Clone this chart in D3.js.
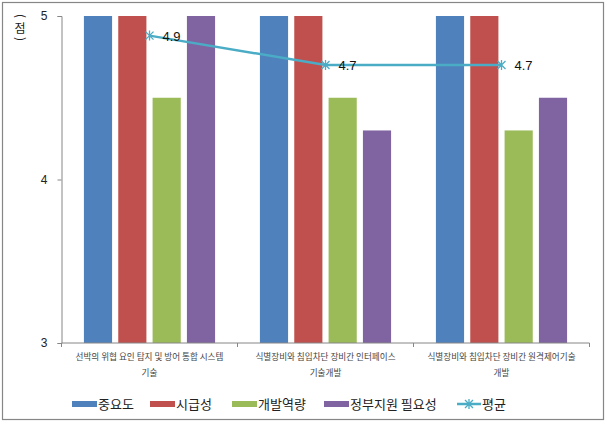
<!DOCTYPE html>
<html>
<head>
<meta charset="utf-8">
<script src="https://cdnjs.cloudflare.com/ajax/libs/d3/7.8.5/d3.min.js"></script>
<style>
  body { margin: 0; background: #fff; }
  svg { font-family: 'Noto Sans CJK KR', 'Noto Sans', sans-serif; }
</style>
</head>
<body>
<div id="graf"></div>
<script>
// data
const categorias = [
  ['선박의 위협 요인 탐지 및 방어 통합 시스템', '기술'],
  ['식별장비와 침입차단 장비간 인터페이스', '기술개발'],
  ['식별장비와 침입차단 장비간 원격제어기술', '개발']
]
const series = ['중요도', '시급성', '개발역량', '정부지원 필요성']
const colores = ['#4f81bd', '#c0504d', '#9bbb59', '#8064a2']
const importancia = [5, 5, 5]
const urgencia = [5, 5, 5]
const capacidad = [4.5, 4.5, 4.3]
const apoyo = [5, 4.3, 4.5]
const promedio = [4.88, 4.7, 4.7]
const promedioLabels = ['4.9', '4.7', '4.7']
const yTicks = [3, 4, 5]

const anchoTotal = 607
const altoTotal = 424

const svg = d3.select('#graf')
  .append('svg')
  .attr('width', anchoTotal)
  .attr('height', altoTotal)

// outer border
svg.append('rect')
  .attr('x', 2.5).attr('y', 2.5)
  .attr('width', 601).attr('height', 417)
  .attr('fill', '#fff')
  .attr('stroke', '#868686')
  .attr('stroke-width', 1.2)

const margin = { top: 16, bottom: 81, left: 61.5, right: 17.5 }
const ancho = anchoTotal - margin.left - margin.right
const alto = altoTotal - margin.top - margin.bottom

const g = svg.append('g')
  .attr('transform', `translate(${margin.left}, ${margin.top})`)

const y = d3.scaleLinear().domain([3, 5]).range([alto, 0])

const x0 = d3.scaleBand()
  .domain(d3.range(categorias.length))
  .range([0, ancho])

const x1 = d3.scaleBand()
  .domain(series)
  .range([0, x0.bandwidth()])
  .paddingInner(0.18)
  .paddingOuter(0.653)

const valores = [importancia, urgencia, capacidad, apoyo]

const grupos = g.selectAll('.grupo')
  .data(categorias.map((c, i) => i))
  .enter()
  .append('g')
  .attr('transform', i => `translate(${x0(i)}, 0)`)

grupos.selectAll('rect')
  .data(i => series.map((s, j) => ({ s, j, v: valores[j][i] })))
  .enter()
  .append('rect')
  .attr('x', d => x1(d.s))
  .attr('y', d => y(d.v))
  .attr('width', x1.bandwidth())
  .attr('height', d => alto - y(d.v))
  .attr('fill', d => colores[d.j])

// y axis
const yAxis = g.append('g')
  .call(d3.axisLeft(y).tickValues(yTicks).tickFormat(d3.format('d')).tickSize(4).tickPadding(10))
yAxis.select('.domain').attr('stroke', '#868686')
yAxis.selectAll('line').attr('stroke', '#868686')
yAxis.selectAll('text')
  .attr('font-size', 12)
  .attr('fill', '#222')
  .attr('font-family', 'Liberation Sans, Arial, sans-serif')

// x axis line with ticks on the band boundaries
const xAxis = g.append('g').attr('transform', `translate(0, ${alto})`)
xAxis.append('line')
  .attr('x1', 0).attr('x2', ancho)
  .attr('stroke', '#868686')
xAxis.selectAll('.tk')
  .data(d3.range(categorias.length + 1))
  .enter()
  .append('line')
  .attr('x1', i => i * x0.step()).attr('x2', i => i * x0.step())
  .attr('y1', 0).attr('y2', 4)
  .attr('stroke', '#868686')

const catLabels = xAxis.selectAll('.cat')
  .data(categorias)
  .enter()
  .append('text')
  .attr('text-anchor', 'middle')
  .attr('font-size', 8.6)
  .attr('fill', '#444')
catLabels.selectAll('tspan')
  .data((d, i) => d.map(t => ({ t, i })))
  .enter()
  .append('tspan')
  .attr('x', d => x0(d.i) + x0.bandwidth() / 2)
  .attr('y', (d, k) => 17 + k * 16)
  .text(d => d.t)

// average line
const px = i => x0(i) + x0.bandwidth() / 2
const linea = d3.line()
  .x((d, i) => px(i))
  .y(d => y(d))

g.append('path')
  .datum(promedio)
  .attr('d', linea)
  .attr('fill', 'none')
  .attr('stroke', '#4bacc6')
  .attr('stroke-width', 2.5)

const estrella = 'M-4,-4L4,4M-4,4L4,-4M0,-5L0,5'
g.selectAll('.marca')
  .data(promedio)
  .enter()
  .append('path')
  .attr('d', estrella)
  .attr('transform', (d, i) => `translate(${px(i)}, ${y(d)})`)
  .attr('stroke', '#4bacc6')
  .attr('stroke-width', 1.3)
  .attr('fill', 'none')

g.selectAll('.etiqueta')
  .data(promedio)
  .enter()
  .append('text')
  .attr('x', (d, i) => px(i) + 13)
  .attr('y', d => y(d) + 5)
  .attr('font-size', 13)
  .attr('fill', '#111')
  .attr('font-family', 'Liberation Sans, Arial, sans-serif')
  .text((d, i) => promedioLabels[i])

// y axis title "(점)" stacked vertically
const tituloY = svg.append('g').attr('transform', 'translate(20, 0)')
tituloY.append('text')
  .attr('transform', 'translate(0, 16) rotate(90)')
  .attr('text-anchor', 'middle').attr('dy', '0.35em')
  .attr('font-size', 12).attr('fill', '#222')
  .text('(')
tituloY.append('text')
  .attr('x', 0).attr('y', 33)
  .attr('text-anchor', 'middle')
  .attr('font-size', 12).attr('fill', '#222')
  .text('점')
tituloY.append('text')
  .attr('transform', 'translate(0, 39) rotate(90)')
  .attr('text-anchor', 'middle').attr('dy', '0.35em')
  .attr('font-size', 12).attr('fill', '#222')
  .text(')')

// legend
const leyendaX = [72, 150, 232, 324, 457]
const leyenda = svg.append('g').attr('transform', 'translate(0, 404)')
series.forEach((s, j) => {
  leyenda.append('rect')
    .attr('x', leyendaX[j]).attr('y', -3)
    .attr('width', 25).attr('height', 6)
    .attr('fill', colores[j])
  leyenda.append('text')
    .attr('x', leyendaX[j] + 26).attr('y', 5)
    .attr('font-size', 13).attr('fill', '#222')
    .text(s)
})
leyenda.append('line')
  .attr('x1', leyendaX[4]).attr('x2', leyendaX[4] + 24)
  .attr('stroke', '#4bacc6').attr('stroke-width', 2.5)
leyenda.append('path')
  .attr('d', estrella)
  .attr('transform', `translate(${leyendaX[4] + 12}, 0)`)
  .attr('stroke', '#4bacc6').attr('stroke-width', 1.3)
leyenda.append('text')
  .attr('x', leyendaX[4] + 25).attr('y', 5)
  .attr('font-size', 13).attr('fill', '#222')
  .text('평균')
</script>
</body>
</html>
